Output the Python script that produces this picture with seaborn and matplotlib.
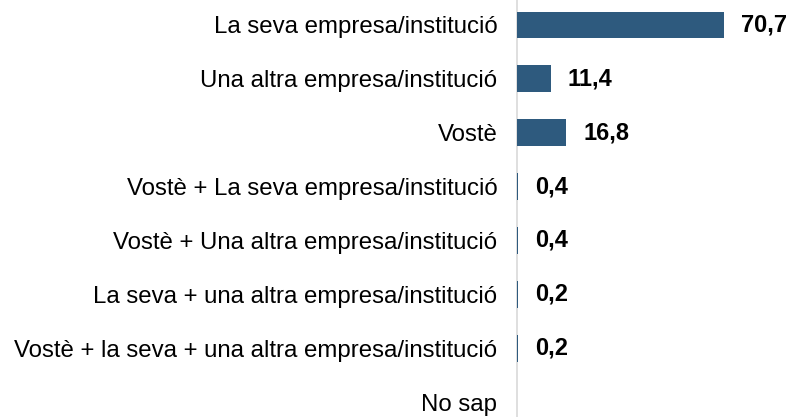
import matplotlib
matplotlib.use("Agg")
import matplotlib.pyplot as plt
import seaborn as sns
import pandas as pd

categories = [
    "La seva empresa/institució",
    "Una altra empresa/institució",
    "Vostè",
    "Vostè + La seva empresa/institució",
    "Vostè + Una altra empresa/institució",
    "La seva + una altra empresa/institució",
    "Vostè + la seva + una altra empresa/institució",
    "No sap",
]
values = [70.7, 11.4, 16.8, 0.4, 0.4, 0.2, 0.2, None]
value_labels = ["70,7", "11,4", "16,8", "0,4", "0,4", "0,2", "0,2", ""]

sns.set_style("white")
plt.rcParams['font.family'] = ['Liberation Sans', 'DejaVu Sans']

df = pd.DataFrame({"cat": categories, "val": [v if v is not None else 0 for v in values]})

fig = plt.figure(figsize=(7.91, 4.17), dpi=100)
ax = fig.add_axes([0.654, 0.0, 0.346, 1.0])
sns.barplot(data=df, y="cat", x="val", orient="h", color="#2E5A7E",
            saturation=1, width=0.5, ax=ax, linewidth=0, edgecolor="none")
for p in ax.patches:
    p.set_zorder(5)

ax.set_xlim(0, 93.5)
ax.set_ylim(7.278, -0.464)
ax.set_xlabel("")
ax.set_ylabel("")
ax.set_xticks([])
for s in ["top", "right", "bottom"]:
    ax.spines[s].set_visible(False)
ax.spines["left"].set_color("#d9d9d9")
ax.spines["left"].set_linewidth(1.2)
ax.spines["left"].set_zorder(0)
ax.tick_params(axis="y", length=0, pad=14.4, labelsize=17.3, labelcolor="#000000")

for i, (v, lab) in enumerate(zip(values, value_labels)):
    if v is None:
        continue
    ax.annotate(lab, xy=(v, i), xytext=(17, 0), textcoords="offset pixels",
                ha="left", va="center", fontsize=17, fontweight="bold", color="#000000")

fig.savefig("out.png", dpi=100)
